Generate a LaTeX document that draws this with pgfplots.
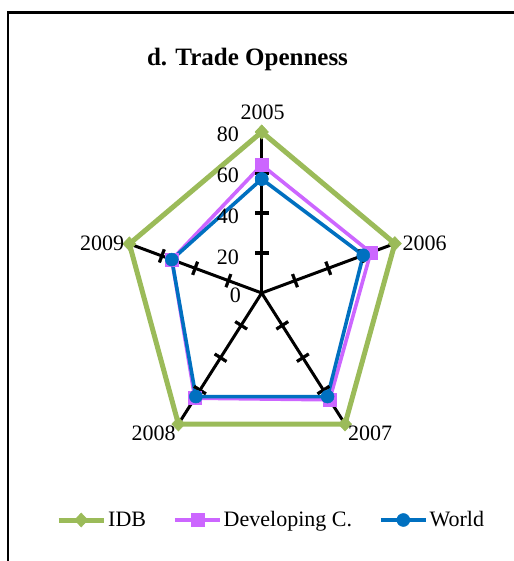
\documentclass[border=0pt]{standalone}
\usepackage{fontspec}
\setmainfont{Liberation Serif}
\usepackage{pgfplots}
\pgfplotsset{compat=1.18}
\definecolor{idb}{HTML}{9BBB59}
\definecolor{dev}{HTML}{CC66FF}
\definecolor{wld}{HTML}{0070C0}
\newcommand\lbl{\fontsize{22}{24}\selectfont}
% short thick tick across a spoke: thin filled bar, turned by #1
\pgfplotsset{spoketick/.style={forget plot,only marks,data cs=polar,mark=square*,
  mark size=6.8pt,mark options={black,draw=none,fill=black,rotate=#1,xscale=0.2}}}

\begin{document}
\begin{tikzpicture}[x=1pt,y=1pt]
\useasboundingbox (0,0) rectangle (513,561);
\draw[line width=2.5pt] (7.8,-2) -- (7.8,548.7) -- (516,548.7);
\begin{axis}[at={(86.7pt,68pt)},anchor=south west,scale only axis,
 width=350pt,height=400pt,xmin=-100,xmax=100,ymin=-100,ymax=100,
 hide axis,clip=false,
 legend columns=3,
 legend style={at={(0.527,-0.0675)},anchor=center,draw=none,fill=none,
   font=\lbl,inner sep=0pt,
   /tikz/every even column/.append style={column sep=25pt}},
 legend image code/.code={\draw[mark repeat=2,mark phase=2,#1]
   plot coordinates {(0pt,0pt) (22.5pt,0pt) (45pt,0pt)};}]
% spokes
\addplot[forget plot,black,line width=3pt,data cs=polar] coordinates {(90,0) (90,80)};
\addplot[forget plot,black,line width=3pt,data cs=polar] coordinates {(18,0) (18,80)};
\addplot[forget plot,black,line width=3pt,data cs=polar] coordinates {(-54,0) (-54,80)};
\addplot[forget plot,black,line width=3pt,data cs=polar] coordinates {(-126,0) (-126,80)};
\addplot[forget plot,black,line width=3pt,data cs=polar] coordinates {(162,0) (162,80)};
% spoke ticks
\addplot[spoketick=90] coordinates {(90,20) (90,40) (90,60)};
\addplot[spoketick=20.4] coordinates {(18,20) (18,40) (18,60)};
\addplot[spoketick=-57.5] coordinates {(-54,20) (-54,40) (-54,60)};
\addplot[spoketick=-122.5] coordinates {(-126,20) (-126,40) (-126,60)};
\addplot[spoketick=159.6] coordinates {(162,20) (162,40) (162,60)};
% series
\addplot[idb,line width=5pt,data cs=polar,mark=diamond*,mark size=7pt,mark options={xscale=1.25,line width=0.5pt}]
 coordinates {(90,80.5) (18,80) (-54,81) (-126,81) (162,79.5) (90,80.5)};
\addlegendentry{IDB}
\addplot[dev,line width=3.6pt,data cs=polar,mark=square*,mark size=6.5pt,mark options={line width=0.5pt}]
 coordinates {(90,64) (18,65.5) (-54,66) (-126,65) (162,54) (90,64)};
\addlegendentry{Developing C.}
\addplot[wld,line width=3.6pt,data cs=polar,mark=*,mark size=6.5pt,mark options={line width=0.5pt}]
 coordinates {(90,57) (18,61) (-54,64) (-126,64) (162,54) (90,57)};
\addlegendentry{World}
\end{axis}
\node[font=\fontsize{25}{28}\selectfont\bfseries] at (247.5,502) {d. Trade Openness};
\node[font=\lbl] at (262.5,448.5) {2005};
\node[font=\lbl] at (424.7,317.7) {2006};
\node[font=\lbl] at (370,128) {2007};
\node[font=\lbl] at (153.5,128) {2008};
\node[font=\lbl] at (102,317.7) {2009};
\node[font=\lbl,anchor=east,inner sep=0pt] at (239,426.5) {80};
\node[font=\lbl,anchor=east,inner sep=0pt] at (239,385.5) {60};
\node[font=\lbl,anchor=east,inner sep=0pt] at (239,344.5) {40};
\node[font=\lbl,anchor=east,inner sep=0pt] at (239,303.5) {20};
\node[font=\lbl,anchor=east,inner sep=0pt] at (241,266) {0};
\end{tikzpicture}
\end{document}
